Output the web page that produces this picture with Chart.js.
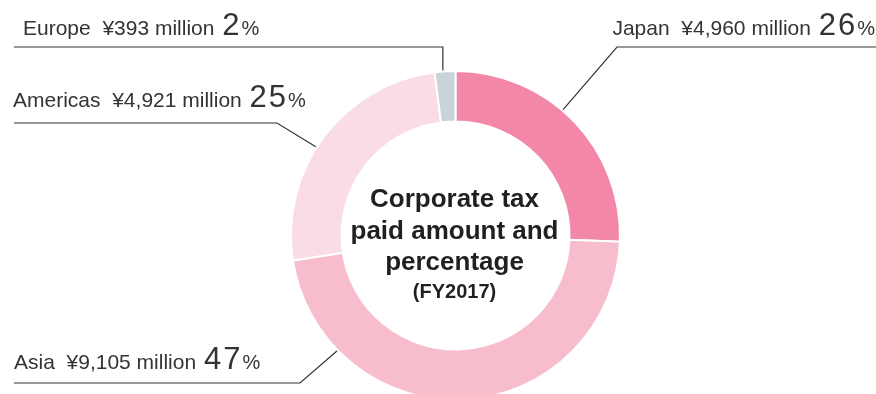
<!DOCTYPE html>
<html>
<head>
<meta charset="utf-8">
<script src="https://cdn.jsdelivr.net/npm/chart.js@4/dist/chart.umd.min.js"></script>
<style>
  html, body { margin: 0; padding: 0; background: #ffffff; }
  #wrap { width: 876px; height: 394px; position: relative; }
</style>
</head>
<body>
<div id="wrap"><canvas id="c" width="876" height="394"></canvas></div>
<script>
// ---- Data ----
const categories = ['Japan', 'Asia', 'Americas', 'Europe'];
const amounts = [4960, 9105, 4921, 393];          // ¥ million
const percentLabels = ['26', '47', '25', '2'];     // %
const sliceColors = ['#f287a7', '#f7bdcd', '#fadde4', '#c8d4d9'];
const centerLines = ['Corporate tax', 'paid amount and', 'percentage'];
const centerSub = '(FY2017)';

// ---- Label layout (annotation placement) ----
const labelLayout = {
  Japan:    { frac: 0.44, elbowX: 617, lineY: 47,  endX: 876, textX: 875, baseline: 35,  align: 'right' },
  Asia:     { frac: 0.79, elbowX: 300, lineY: 383, endX: 14,  textX: 14,  baseline: 369, align: 'left' },
  Americas: { frac: 0.45, elbowX: 277, lineY: 123, endX: 14,  textX: 13,  baseline: 107, align: 'left' },
  Europe:   { frac: 0.40, elbowX: null, lineY: 47, endX: 14,  textX: 23,  baseline: 35,  align: 'left' }
};

const FONT = '"Liberation Sans", Arial, Helvetica, sans-serif';
const TEXT_COLOR = '#333333';

function drawParts(ctx, parts, x, baseline, align) {
  ctx.save();
  ctx.textBaseline = 'alphabetic';
  ctx.textAlign = 'left';
  let widths = parts.map(p => {
    ctx.font = p.font;
    ctx.letterSpacing = p.spacing || '0px';
    return ctx.measureText(p.text).width + (p.after || 0);
  });
  const total = widths.reduce((a, b) => a + b, 0);
  let cx = align === 'right' ? x - total : x;
  parts.forEach((p, i) => {
    ctx.font = p.font;
    ctx.letterSpacing = p.spacing || '0px';
    ctx.fillStyle = TEXT_COLOR;
    ctx.fillText(p.text, cx, baseline);
    cx += widths[i];
  });
  ctx.restore();
}

const labelPlugin = {
  id: 'labels',
  afterDraw(chart) {
    const ctx = chart.ctx;
    const meta = chart.getDatasetMeta(0);
    meta.data.forEach((arc, i) => {
      const name = categories[i];
      const L = labelLayout[name];
      const a = arc.startAngle + L.frac * (arc.endAngle - arc.startAngle);
      const r = arc.outerRadius + 1;
      const ax = arc.x + Math.cos(a) * r;
      const ay = arc.y + Math.sin(a) * r;
      const ex = L.elbowX === null ? ax : L.elbowX;
      ctx.save();
      ctx.strokeStyle = '#333333';
      ctx.lineWidth = 1.2;
      ctx.beginPath();
      ctx.moveTo(ax, ay);
      ctx.lineTo(ex, L.lineY);
      ctx.lineTo(L.endX, L.lineY);
      ctx.stroke();
      ctx.restore();

      const parts = [
        { text: name + '  \u00A5' + amounts[i].toLocaleString('en-US') + ' million ', font: '21px ' + FONT, after: 2 },
        { text: percentLabels[i], font: '31px ' + FONT, spacing: '2px', after: 0 },
        { text: '%', font: '20px ' + FONT }
      ];
      drawParts(ctx, parts, L.textX, L.baseline, L.align);
    });

    // center title
    const arc0 = meta.data[0];
    const cx = arc0.x - 1;
    ctx.save();
    ctx.fillStyle = '#231f20';
    ctx.textAlign = 'center';
    ctx.textBaseline = 'alphabetic';
    ctx.font = 'bold 26px ' + FONT;
    const baselines = [206.5, 238.5, 270];
    centerLines.forEach((t, k) => ctx.fillText(t, cx, baselines[k]));
    ctx.font = 'bold 20px ' + FONT;
    ctx.fillText(centerSub, cx, 298);
    ctx.restore();
  }
};

new Chart(document.getElementById('c'), {
  type: 'doughnut',
  data: {
    labels: categories,
    datasets: [{
      data: amounts,
      backgroundColor: sliceColors,
      borderColor: '#ffffff',
      borderWidth: 2
    }]
  },
  options: {
    responsive: false,
    animation: false,
    radius: 164.5,
    cutout: '69.3%',
    layout: { padding: { left: 35, right: 0, top: 77, bottom: 0 } },
    plugins: {
      legend: { display: false },
      tooltip: { enabled: false }
    }
  },
  plugins: [labelPlugin]
});
</script>
</body>
</html>
